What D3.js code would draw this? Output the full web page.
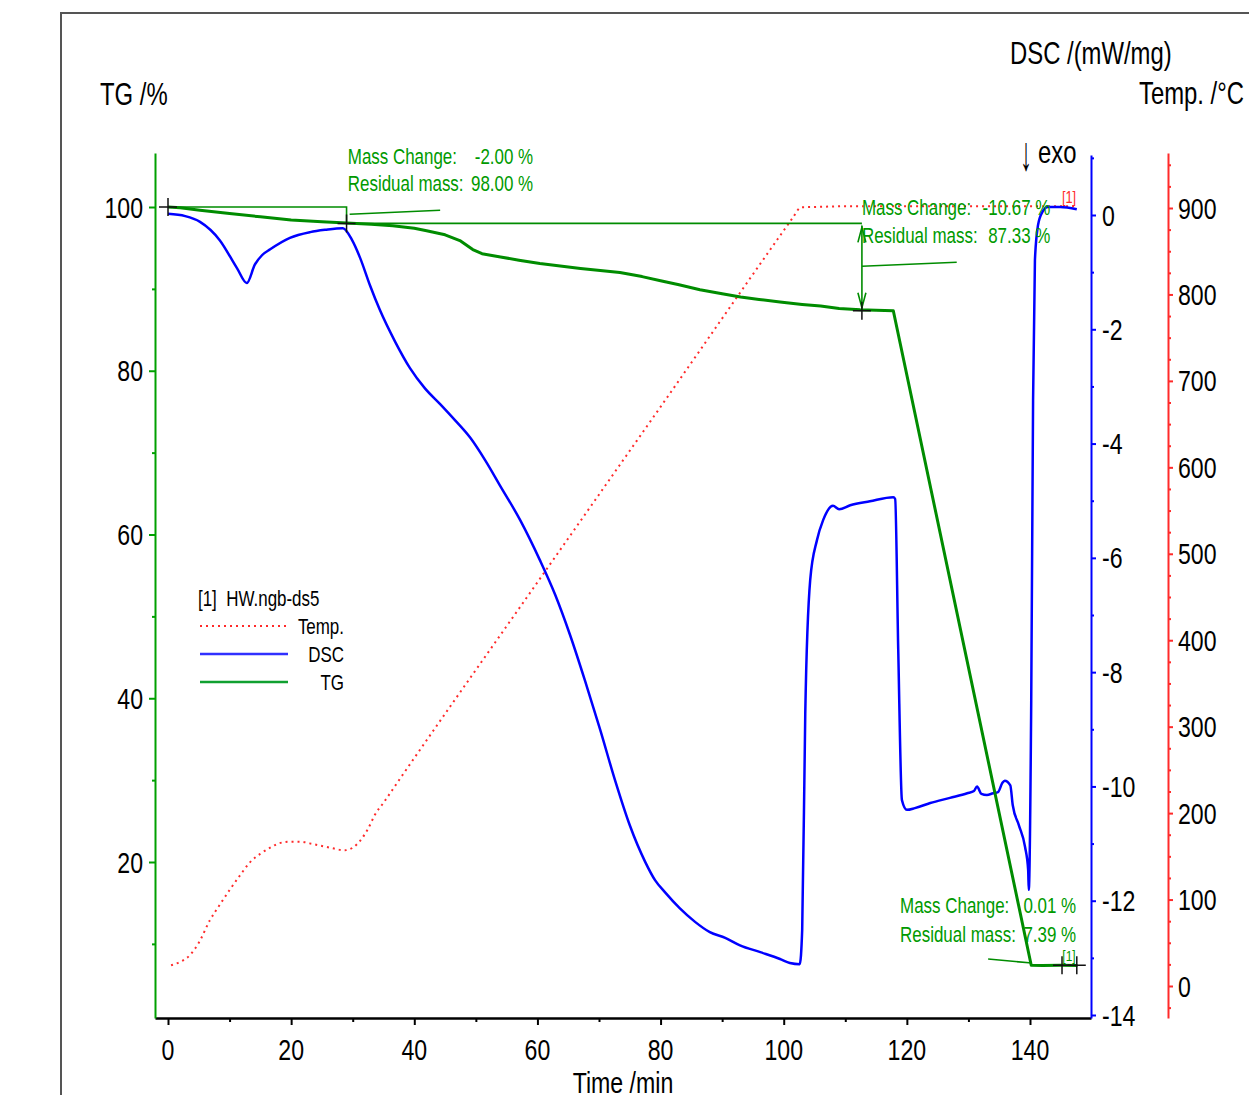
<!DOCTYPE html>
<html>
<head>
<meta charset="utf-8">
<script src="https://cdn.jsdelivr.net/npm/d3@7"></script>
<style>
  html, body { margin: 0; padding: 0; background: #fff; }
  svg { display: block; font-family: "Liberation Sans", Arial, sans-serif; }
  text { white-space: pre; }
</style>
</head>
<body>
<svg id="chart" width="1249" height="1095"></svg>
<script>
// ---------------- DATA ----------------
const timeTicks = [0, 20, 40, 60, 80, 100, 120, 140];
const timeMinor = [10, 30, 50, 70, 90, 110, 130];
const tgTicks = [20, 40, 60, 80, 100];
const tgMinor = [10, 30, 50, 70, 90];
const dscTicks = [-14, -12, -10, -8, -6, -4, -2, 0];
const dscMinor = [-13, -11, -9, -7, -5, -3, -1, 1];
const tempTicks = [0, 100, 200, 300, 400, 500, 600, 700, 800, 900];
const tempMinor = [-25, 25, 50, 75, 125, 150, 175, 225, 250, 275, 325, 350, 375, 425, 450, 475,
  525, 550, 575, 625, 650, 675, 725, 750, 775, 825, 850, 875, 925, 950];

// TG /% vs time /min
const tgTime = [0, 2, 5.2, 10, 15, 20, 25, 29, 33, 36.5, 40, 42, 45, 47.4, 49.5, 51, 54, 57, 60.4, 67,
  73.4, 77, 80, 83, 86.4, 90, 93, 96, 99.4, 103, 106, 109, 112.4, 115, 117.8, 140.2, 142, 145, 147.7];
const tgValue = [100, 99.9, 99.6, 99.2, 98.8, 98.4, 98.2, 98.05, 97.9, 97.7, 97.4, 97.1, 96.6, 95.9, 94.8, 94.3, 93.9, 93.5, 93.1, 92.5,
  92.0, 91.5, 91.0, 90.5, 89.9, 89.4, 89.0, 88.7, 88.4, 88.1, 87.9, 87.6, 87.45, 87.38, 87.33, 7.39, 7.37, 7.38, 7.37];

// DSC /(mW/mg) vs time /min
const dscTime = [0, 2.8, 5.2, 8.4, 11.2, 12.8, 14.1, 15.3, 16.6, 19.8, 23.1, 25.5, 28.4, 29.9, 31.2, 32.8, 34.4, 36.9,
  39.3, 41.7, 44.2, 46.6, 49.1, 51.5, 53.9, 57.2, 60.4, 62.9, 65.3, 67.7, 70.2, 72.6, 75.0, 77.5, 79.1, 80.7,
  83.1, 85.6, 88.0, 90.5, 92.9, 96.2, 99.4, 101.0, 102.6, 103.0, 103.5, 104.3, 105.4, 106.4, 108.0, 109.0,
  110.8, 114.0, 117.8, 118.1, 118.6, 119.2, 120.0, 121.3, 123.8, 127.0, 129.8, 130.9, 131.4, 132.1, 133.0,
  134.0, 134.8, 135.5, 135.9, 136.8, 137.2, 138.2, 139.2, 139.7, 139.8, 140.2, 140.5, 140.8, 141.3, 142.0,
  142.9, 144.9, 147.6];
const dscValue = [0.02, -0.02, -0.12, -0.44, -0.93, -1.19, -0.87, -0.70, -0.60, -0.40, -0.30, -0.26, -0.23, -0.44, -0.75, -1.23, -1.66, -2.22,
  -2.68, -3.03, -3.31, -3.59, -3.90, -4.29, -4.73, -5.34, -6.04, -6.65, -7.35, -8.14, -9.01, -9.89, -10.68, -11.32, -11.64, -11.85,
  -12.13, -12.37, -12.55, -12.65, -12.78, -12.90, -13.02, -13.09, -13.11, -12.51, -8.72, -6.39, -5.69, -5.34, -5.09, -5.15,
  -5.08, -5.01, -4.94, -4.97, -7.61, -10.24, -10.41, -10.38, -10.29, -10.20, -10.12, -10.08, -10.00, -10.13, -10.15,
  -10.12, -10.10, -9.94, -9.90, -9.98, -10.33, -10.68, -11.06, -11.46, -11.81, -8.49, -3.24, -0.79, -0.18, 0.05,
  0.14, 0.14, 0.10];

// Temp. /°C vs time /min
const tempTime = [0.5, 2, 3.6, 5, 6.8, 8.5, 10, 11.7, 13.3, 15, 16.6, 18, 19.8, 21.5, 23, 25, 26.3, 28.7, 30, 31.2,
  32.5, 33.6, 35, 37.7, 60, 80, 101.5, 102.6, 102.9, 103.5, 110, 147.6];
const tempValue = [24, 28, 36, 50, 76, 95, 111, 128, 143, 153, 160, 165, 167, 167, 165, 162, 160, 157, 160, 168,
  182, 198, 212, 240, 467, 670, 889, 900, 901, 901, 902, 902];

// Annotations
const step1 = { t0: 0, t1: 29, from: 100, to: 98, change: "-2.00 %", residual: "98.00 %" };
const step2 = { t0: 29, t1: 112.7, from: 98, to: 87.33, change: "-10.67 %", residual: "87.33 %" };
const step3 = { change: "0.01 %", residual: "7.39 %" };
const legendItems = ["Temp.", "DSC", "TG"];

// ---------------- LAYOUT ----------------
const svg = d3.select("#chart");
const FONT = "'Liberation Sans', Arial, sans-serif";
const SX = 0.77;
const GREEN = "#008c00", GREEN_T = "#009a00", BLUE = "#0000ff", RED = "#ff2a2a";

const x = d3.scaleLinear().domain([0, 140]).range([168, 1030]);
const yTG = d3.scaleLinear().domain([0, 100]).range([1025.75, 207]);
const yDSC = d3.scaleLinear().domain([-14, 0]).range([1015, 215]);
const yT = d3.scaleLinear().domain([0, 900]).range([986, 208]);

const axBottom = 1018, axTop = 153;
const xLeft = 155, xBlue = 1091, xRed = 1168;

function ctext(sel, px, py, str, o = {}) {
  return sel.append("text")
    .attr("transform", `translate(${px},${py}) scale(${o.sx || SX},1)`)
    .attr("text-anchor", o.anchor || "start")
    .attr("font-size", o.size || 30)
    .attr("font-family", FONT)
    .attr("fill", o.fill || "#000")
    .text(str);
}

// frame
svg.append("rect").attr("x", 61).attr("y", 13).attr("width", 1400).attr("height", 1300)
  .attr("fill", "none").attr("stroke", "#555").attr("stroke-width", 2);

// ---------------- AXES ----------------
function extScale(s, lo, hi) {
  return d3.scaleLinear().domain([s.invert(lo), s.invert(hi)]).range([lo, hi]);
}
function styleAxis(g, color, w) {
  g.selectAll(".domain").attr("stroke", color).attr("stroke-width", w);
  g.selectAll(".tick line").attr("stroke", color).attr("stroke-width", 2);
}

// X axis
const xa = extScale(x, xLeft, xBlue);
const gx = svg.append("g").attr("transform", `translate(0,${axBottom})`)
  .call(d3.axisBottom(xa).tickValues(timeTicks).tickSize(7).tickSizeOuter(0).tickFormat(""));
styleAxis(gx, "#000", 2.5);
const gxm = svg.append("g").attr("transform", `translate(0,${axBottom})`)
  .call(d3.axisBottom(xa).tickValues(timeMinor).tickSize(4).tickSizeOuter(0).tickFormat(""));
gxm.select(".domain").remove(); styleAxis(gxm, "#000", 2);
timeTicks.forEach(v => ctext(svg, x(v), 1060, v, { anchor: "middle" }));
ctext(svg, 623, 1093, "Time /min", { anchor: "middle", size: 30 });

// TG axis (left, green)
const ya = extScale(yTG, axBottom, axTop);
const gy = svg.append("g").attr("transform", `translate(${xLeft},0)`)
  .call(d3.axisLeft(ya).tickValues(tgTicks).tickSize(6).tickSizeOuter(0).tickFormat(""));
styleAxis(gy, "#00a000", 2);
const gym = svg.append("g").attr("transform", `translate(${xLeft},0)`)
  .call(d3.axisLeft(ya).tickValues(tgMinor).tickSize(3).tickSizeOuter(0).tickFormat(""));
gym.select(".domain").remove(); styleAxis(gym, "#00a000", 2);
tgTicks.forEach(v => ctext(svg, 143, yTG(v) + 10.5, v, { anchor: "end" }));
ctext(svg, 100, 105, "TG /%", { size: 31 });

// DSC axis (blue)
const yda = extScale(yDSC, axBottom, 155);
const gd = svg.append("g").attr("transform", `translate(${xBlue},0)`)
  .call(d3.axisRight(yda).tickValues(dscTicks).tickSize(5).tickSizeOuter(0).tickFormat(""));
styleAxis(gd, BLUE, 2);
const gdm = svg.append("g").attr("transform", `translate(${xBlue},0)`)
  .call(d3.axisRight(yda).tickValues(dscMinor).tickSize(3).tickSizeOuter(0).tickFormat(""));
gdm.select(".domain").remove(); styleAxis(gdm, BLUE, 2);
dscTicks.forEach(v => ctext(svg, 1102, yDSC(v) + 10.5, v));
ctext(svg, 1010, 64, "DSC /(mW/mg)", { size: 31 });

// Temp axis (red)
const yta = extScale(yT, axBottom, axTop);
const gt = svg.append("g").attr("transform", `translate(${xRed},0)`)
  .call(d3.axisRight(yta).tickValues(tempTicks).tickSize(5).tickSizeOuter(0).tickFormat(""));
styleAxis(gt, RED, 2);
const gtm = svg.append("g").attr("transform", `translate(${xRed},0)`)
  .call(d3.axisRight(yta).tickValues(tempMinor).tickSize(3).tickSizeOuter(0).tickFormat(""));
gtm.select(".domain").remove(); styleAxis(gtm, RED, 2);
tempTicks.forEach(v => ctext(svg, 1178, yT(v) + 10.5, v));
ctext(svg, 1139, 104, "Temp. /°C", { size: 31 });

// exo marker
ctext(svg, 1026, 170, "↓", { anchor: "middle", size: 48, sx: 0.5 });
ctext(svg, 1038, 163, "exo", { size: 31 });

// ---------------- CURVES ----------------
const tempData = tempTime.map((t, i) => [t, tempValue[i]]);
const dscData = dscTime.map((t, i) => [t, dscValue[i]]);
const tgData = tgTime.map((t, i) => [t, tgValue[i]]);

svg.append("path").datum(tempData)
  .attr("d", d3.line().x(d => x(d[0])).y(d => yT(d[1])).curve(d3.curveMonotoneX))
  .attr("fill", "none").attr("stroke", RED).attr("stroke-width", 2)
  .attr("stroke-dasharray", "2,4");

svg.append("path").datum(dscData)
  .attr("d", d3.line().x(d => x(d[0])).y(d => yDSC(d[1])).curve(d3.curveMonotoneX))
  .attr("fill", "none").attr("stroke", BLUE).attr("stroke-width", 2.5).attr("stroke-linejoin", "round");

// annotation lines (green, thin)
const ann = svg.append("g").attr("stroke", GREEN).attr("stroke-width", 1.6).attr("fill", "none");
const L = d3.line().x(d => x(d[0])).y(d => yTG(d[1]));
ann.append("path").attr("d", L([[step1.t0, step1.from], [step1.t1, step1.from], [step1.t1, step1.to]]));
ann.append("path").attr("d", L([[29.5, 99.11], [44.2, 99.6]]));
ann.append("path").attr("d", L([[step2.t0, step2.from], [step2.t1, step2.from]]));
ann.append("path").attr("d", L([[step2.t1, step2.from - 0.3], [step2.t1, step2.to + 0.3]]));
ann.append("path").attr("d", L([[112.7, 92.76], [128.1, 93.25]]));
ann.append("path").attr("d", L([[133.2, 8.15], [140.3, 7.66]]));
// double arrow heads
const ax0 = x(step2.t1), aTop = yTG(step2.from) + 4, aBot = yTG(step2.to) - 3;
ann.append("path").attr("d", `M${ax0 - 4},${aTop + 15}L${ax0},${aTop}L${ax0 + 4},${aTop + 15}`);
ann.append("path").attr("d", `M${ax0 - 4},${aBot - 15}L${ax0},${aBot}L${ax0 + 4},${aBot - 15}`);

svg.append("path").datum(tgData)
  .attr("d", d3.line().x(d => x(d[0])).y(d => yTG(d[1])).curve(d3.curveLinear))
  .attr("fill", "none").attr("stroke", GREEN).attr("stroke-width", 3).attr("stroke-linejoin", "round");

// crosshairs
const crosses = [[0, 100], [29, 98], [112.7, 87.33], [145.2, 7.39], [147.6, 7.39]];
svg.append("g").selectAll("path").data(crosses).join("path")
  .attr("d", d => { const cx = x(d[0]), cy = yTG(d[1]); return `M${cx - 9},${cy}H${cx + 9}M${cx},${cy - 9}V${cy + 9}`; })
  .attr("stroke", "#111").attr("stroke-width", 1.5);

// annotation texts
function massText(tx, tEnd, yv1, yv2, s) {
  ctext(svg, x(tx), yTG(yv1), "Mass Change:", { size: 22, fill: GREEN_T });
  ctext(svg, x(tEnd), yTG(yv1), s.change, { size: 22, fill: GREEN_T, anchor: "end" });
  ctext(svg, x(tx), yTG(yv2), "Residual mass:", { size: 22, fill: GREEN_T });
  ctext(svg, x(tEnd), yTG(yv2), s.residual, { size: 22, fill: GREEN_T, anchor: "end" });
}
massText(29.2, 59.3, 105.3, 101.9, step1);
massText(112.7, 143.3, 99.0, 95.6, step2);
massText(118.9, 147.5, 13.75, 10.2, step3);

ctext(svg, 1069, 203, "[1]", { size: 16, fill: RED, anchor: "middle", sx: 0.8 });
ctext(svg, 1069, 961, "[1]", { size: 15, fill: GREEN_T, anchor: "middle", sx: 0.8 });

// ---------------- LEGEND ----------------
const lg = svg.append("g");
ctext(lg, 198, 606, "[1]  HW.ngb-ds5", { size: 22 });
const legStyles = [
  { color: RED, dash: "2,4", w: 2 },
  { color: "#3030ff", dash: null, w: 2.5 },
  { color: "#10a030", dash: null, w: 2.5 }
];
legendItems.forEach((name, i) => {
  const yy = 626 + i * 28;
  lg.append("line").attr("x1", 200).attr("x2", 288).attr("y1", yy).attr("y2", yy)
    .attr("stroke", legStyles[i].color).attr("stroke-width", legStyles[i].w)
    .attr("stroke-dasharray", legStyles[i].dash);
  ctext(lg, 344, yy + 8, name, { size: 22, anchor: "end" });
});
</script>
</body>
</html>
